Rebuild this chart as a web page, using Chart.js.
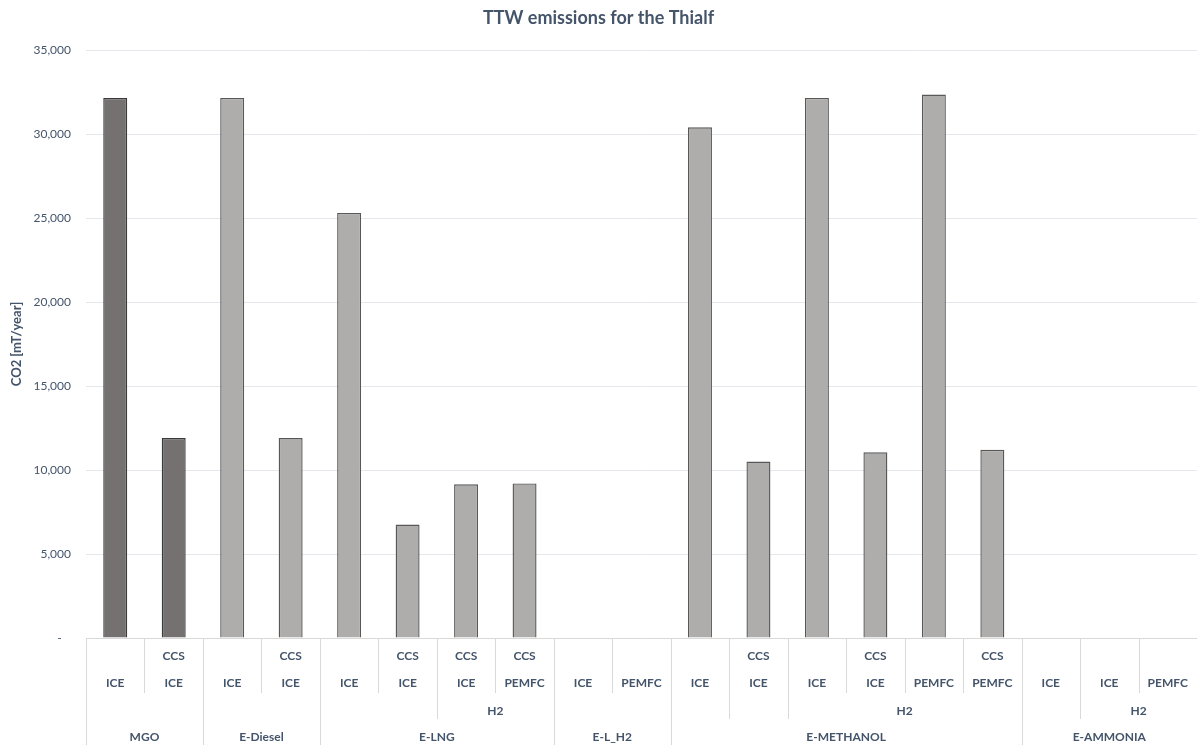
<!DOCTYPE html>
<html>
<head>
<meta charset="utf-8">
<title>TTW emissions for the Thialf</title>
<script src="https://cdn.jsdelivr.net/npm/chart.js@4.4.1/dist/chart.umd.min.js"></script>
<style>
  html, body { margin: 0; padding: 0; background: #ffffff; }
  #wrap { width: 1197px; height: 745px; position: relative; }
</style>
</head>
<body>
<div id="wrap"><canvas id="chart" width="1197" height="745"></canvas></div>
<script>
// Tank-to-wake CO2 emissions per fuel / drivetrain option (mT/year)
const emissions = [32150, 11900, 32150, 11900, 25300, 6750, 9150, 9200, 0, 0,
                   30400, 10500, 32150, 11050, 32350, 11200, 0, 0, 0];

// Innermost label rows (one entry per bar)
const ccsLabels = ['', 'CCS', '', 'CCS', '', 'CCS', 'CCS', 'CCS', '', '',
                   '', 'CCS', '', 'CCS', '', 'CCS', '', '', ''];
const engineLabels = ['ICE', 'ICE', 'ICE', 'ICE', 'ICE', 'ICE', 'ICE', 'PEMFC', 'ICE', 'PEMFC',
                      'ICE', 'ICE', 'ICE', 'ICE', 'PEMFC', 'PEMFC', 'ICE', 'ICE', 'PEMFC'];

// Carrier groups (label + number of bars they span)
const carrierLabels = ['', '', '', 'H2', '', '', '', 'H2', '', 'H2'];
const carrierSizes  = [2, 2, 2, 2, 2, 1, 1, 4, 1, 2];

// Fuel groups (label + number of bars they span)
const fuelLabels = ['MGO', 'E-Diesel', 'E-LNG', 'E-L_H2', 'E-METHANOL', 'E-AMMONIA'];
const fuelSizes  = [2, 2, 4, 2, 6, 3];

const categories = engineLabels.map((e, i) => (ccsLabels[i] ? ccsLabels[i] + ' ' : '') + e);

const TEXT = '#44546A';
const LINE = '#D9D9D9';
const FONT = 'Lato, "Open Sans", sans-serif';

// fuel index of every bar, used for bar colouring
const fuelOfBar = [];
fuelSizes.forEach((n, f) => { for (let k = 0; k < n; k++) fuelOfBar.push(f); });
const barFill = fuelOfBar.map(f => f === 0 ? '#767171' : '#AEADAB');
const barEdge = fuelOfBar.map(f => f === 0 ? '#3A3A3A' : '#585858');

function boundarySet(sizes) {
  const s = new Set([0]);
  let acc = 0;
  sizes.forEach(n => { acc += n; s.add(acc); });
  return s;
}

// Multi-level category table drawn under the plot area
const categoryTable = {
  id: 'categoryTable',
  afterDraw(chart) {
    const ctx = chart.ctx;
    const xs = chart.scales.x;
    const area = chart.chartArea;
    const n = categories.length;
    const step = xs.getPixelForValue(1) - xs.getPixelForValue(0);
    const edge = i => xs.getPixelForValue(0) - step / 2 + i * step;
    const top = area.bottom;
    const rowY = [656, 683, 711, 737];
    const rowBottom = [693, 719, 745];

    const fuelB = boundarySet(fuelSizes);
    const carrierB = boundarySet(carrierSizes);

    ctx.save();
    ctx.strokeStyle = LINE;
    ctx.lineWidth = 1;

    // axis line
    ctx.beginPath();
    ctx.moveTo(area.left, Math.round(top) + 0.5);
    ctx.lineTo(area.right, Math.round(top) + 0.5);
    ctx.stroke();

    // separators
    for (let b = 0; b < n; b++) {
      let y2 = rowBottom[0];
      if (fuelB.has(b)) y2 = rowBottom[2];
      else if (carrierB.has(b)) y2 = rowBottom[1];
      const x = Math.round(edge(b)) + 0.5;
      ctx.beginPath();
      ctx.moveTo(x, top);
      ctx.lineTo(x, y2);
      ctx.stroke();
    }

    ctx.fillStyle = TEXT;
    ctx.textAlign = 'center';
    ctx.textBaseline = 'middle';
    ctx.font = 'bold 12px ' + FONT;

    for (let i = 0; i < n; i++) {
      const cx = xs.getPixelForValue(i);
      if (ccsLabels[i]) ctx.fillText(ccsLabels[i], cx, rowY[0]);
      ctx.fillText(engineLabels[i], cx, rowY[1]);
    }

    let acc = 0;
    carrierSizes.forEach((sz, g) => {
      if (carrierLabels[g]) ctx.fillText(carrierLabels[g], (edge(acc) + edge(acc + sz)) / 2, rowY[2]);
      acc += sz;
    });

    acc = 0;
    fuelSizes.forEach((sz, g) => {
      ctx.fillText(fuelLabels[g], (edge(acc) + edge(acc + sz)) / 2, rowY[3]);
      acc += sz;
    });
    ctx.restore();
  }
};

new Chart(document.getElementById('chart'), {
  type: 'bar',
  data: {
    labels: categories,
    datasets: [{
      label: 'CO2',
      data: emissions,
      backgroundColor: barFill,
      borderColor: barEdge,
      borderWidth: 1.4,
      barPercentage: 0.41,
      categoryPercentage: 1.0
    }]
  },
  options: {
    responsive: false,
    animation: false,
    devicePixelRatio: 1,
    layout: { padding: { left: 0, right: 0, top: 0, bottom: 107 } },
    plugins: {
      legend: { display: false },
      tooltip: { enabled: false },
      title: {
        display: true,
        text: 'TTW emissions for the Thialf',
        color: TEXT,
        font: { family: FONT, size: 18, weight: 'bold' },
        padding: { top: 7, bottom: 21.4 }
      }
    },
    scales: {
      x: { display: false },
      y: {
        min: 0,
        max: 35000,
        afterFit(scale) { scale.width = 86; },
        border: { display: false },
        grid: { color: '#E4E8ED', drawTicks: false },
        ticks: {
          stepSize: 5000,
          padding: 15,
          color: TEXT,
          font: { family: FONT, size: 12 },
          callback: v => v === 0 ? '-   ' : v.toLocaleString('en-US')
        },
        title: {
          display: true,
          text: 'CO2 [mT/year]',
          color: TEXT,
          font: { family: FONT, size: 13, weight: 'bold' },
          padding: { top: 9, bottom: 0 }
        }
      }
    }
  },
  plugins: [categoryTable]
});
</script>
</body>
</html>
